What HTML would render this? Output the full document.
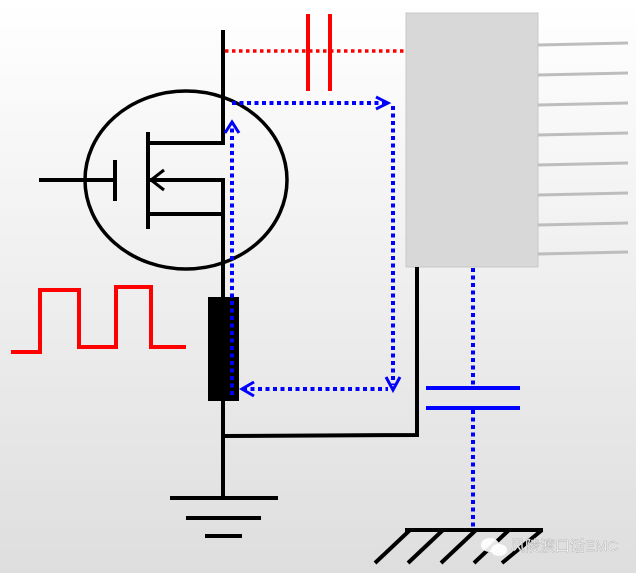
<!DOCTYPE html>
<html><head><meta charset="utf-8"><style>
html,body{margin:0;padding:0}
body{width:636px;height:573px;overflow:hidden;background:linear-gradient(#ffffff,#dedede);}
</style></head><body>
<svg width="636" height="573" viewBox="0 0 636 573" xmlns="http://www.w3.org/2000/svg">
<rect x="406" y="13" width="132" height="254" fill="#d8d8d8" stroke="#c8c8c8"/>
<g stroke="#bdbdbd" stroke-width="3">
<line x1="538" y1="45" x2="628" y2="43"/>
<line x1="538" y1="75" x2="628" y2="73"/>
<line x1="538" y1="105" x2="628" y2="103"/>
<line x1="538" y1="135" x2="628" y2="133"/>
<line x1="538" y1="165" x2="628" y2="163"/>
<line x1="538" y1="195" x2="628" y2="193"/>
<line x1="538" y1="225" x2="628" y2="223"/>
<line x1="538" y1="254" x2="628" y2="252"/>
</g>
<ellipse cx="186" cy="180" rx="101" ry="89" fill="none" stroke="#000" stroke-width="3.5"/>
<g stroke="#000" stroke-width="4" fill="none">
<polyline points="223,30 223,143 148,143"/>
<polyline points="150,180 223,180 223,497"/>
<line x1="148" y1="214" x2="223" y2="214"/>
<line x1="148" y1="132" x2="148" y2="229"/>
<line x1="115" y1="160" x2="115" y2="201"/>
<line x1="39" y1="180" x2="115" y2="180"/>
<polyline points="164,170 151,180 164,190" stroke-width="3"/>
<polyline points="223,436 417,435 417,267"/>
<line x1="170" y1="498" x2="278" y2="498"/>
<line x1="186" y1="518" x2="261" y2="518"/>
<line x1="205" y1="536" x2="242" y2="536"/>
<line x1="405" y1="530" x2="543" y2="530"/>
<line x1="410" y1="530" x2="375" y2="563"/>
<line x1="443" y1="530" x2="408" y2="563"/>
<line x1="476" y1="530" x2="441" y2="563"/>
<line x1="509" y1="530" x2="474" y2="563"/>
<line x1="542" y1="530" x2="502" y2="563"/>
</g>
<rect x="208" y="297" width="31" height="104" fill="#000"/>
<polyline points="11,352 40,352 40,290 79,290 79,347 116,347 116,287 151,287 151,347 186,347" fill="none" stroke="#f00" stroke-width="4"/>
<line x1="225" y1="51" x2="405" y2="51" stroke="#f00" stroke-width="3.5" stroke-dasharray="3.5,3.5"/>
<line x1="308" y1="14" x2="308" y2="91" stroke="#f00" stroke-width="4"/>
<line x1="330" y1="14" x2="330" y2="91" stroke="#f00" stroke-width="4"/>
<g stroke="#00f" stroke-width="4" fill="none">
<line x1="232" y1="103" x2="385" y2="103" stroke-dasharray="4,3.5"/>
<line x1="393" y1="106" x2="393" y2="385" stroke-dasharray="4,3.5"/>
<line x1="243" y1="389" x2="388" y2="389" stroke-dasharray="4,3.5"/>
<line x1="232" y1="395" x2="232" y2="124" stroke-dasharray="4,3.5"/>
<polyline points="376,97 388,103 376,109" stroke-width="3"/>
<polyline points="386,377 393,390 400,377" stroke-width="3"/>
<polyline points="254,382 242,389 254,396" stroke-width="3"/>
<polyline points="225,133 232,122 239,133" stroke-width="3"/>
<line x1="473" y1="268" x2="473" y2="387" stroke-dasharray="4,3.5"/>
<line x1="473" y1="410" x2="473" y2="527" stroke-dasharray="4,3.5"/>
<line x1="426" y1="388" x2="520" y2="388"/>
<line x1="426" y1="408" x2="520" y2="408"/>
</g>
<ellipse cx="490" cy="545" rx="9" ry="7" fill="#fff" opacity="0.9"/>
<ellipse cx="499" cy="550" rx="8" ry="6" fill="#fff" opacity="0.9"/>
<text x="510" y="551" font-family="Liberation Sans, Noto Sans CJK SC, sans-serif" font-size="15" fill="#fff" stroke="#aaa" stroke-width="0.4">风陵渡口话EMC</text>
</svg>
</body></html>
